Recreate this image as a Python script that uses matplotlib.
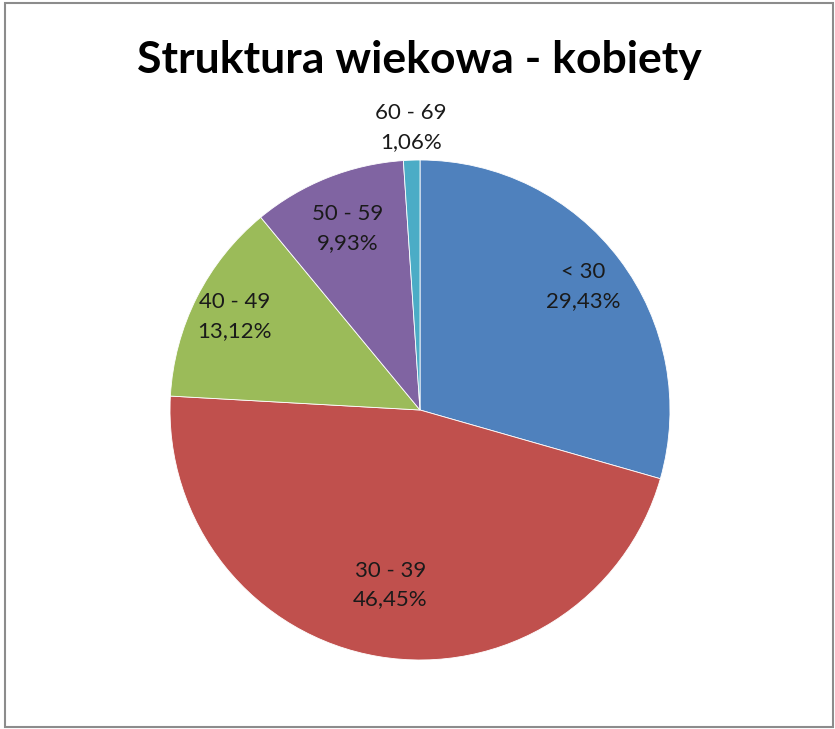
import matplotlib
matplotlib.use('Agg')
import matplotlib.pyplot as plt
import numpy as np

plt.rcParams['font.family'] = ['Lato', 'DejaVu Sans']

# dane
groups = ['< 30', '30 - 39', '40 - 49', '50 - 59', '60 - 69']
shares = [29.43, 46.45, 13.12, 9.93, 1.06]
colors = ['#4F81BD', '#C0504D', '#9BBB59', '#8064A2', '#4BACC6']
label_dist = [0.82, 0.71, 0.83, 0.78, 1.13]

fig = plt.figure(figsize=(8.35, 7.29), dpi=100)
ax = fig.add_axes([(420 - 250) / 835, 1 - 660 / 729, 500 / 835, 500 / 729])

wedges, _ = ax.pie(shares, colors=colors, startangle=90, counterclock=False,
                   wedgeprops=dict(edgecolor='white', linewidth=0.6))
ax.set_xlim(-1, 1)
ax.set_ylim(-1, 1)
ax.set_aspect('equal')

for w, g, s, d in zip(wedges, groups, shares, label_dist):
    ang = np.deg2rad((w.theta1 + w.theta2) / 2)
    pct = f'{s:.2f}'.replace('.', ',') + '%'
    ax.text(d * np.cos(ang), d * np.sin(ang), f'{g}\n{pct}', ha='center', va='center',
            fontsize=16, color='#1a1a1a', linespacing=1.55)

fig.text(0.5 + 2 / 835, 1 - 60 / 729, 'Struktura wiekowa - kobiety', ha='center', va='center',
         fontsize=32, fontweight='bold')

# ramka
fig.add_artist(plt.Rectangle((5 / 835, 2 / 729), 828 / 835, 724 / 729, transform=fig.transFigure,
                             fill=False, edgecolor='#8c8c8c', linewidth=1.5))

fig.savefig('out.png', dpi=100)
